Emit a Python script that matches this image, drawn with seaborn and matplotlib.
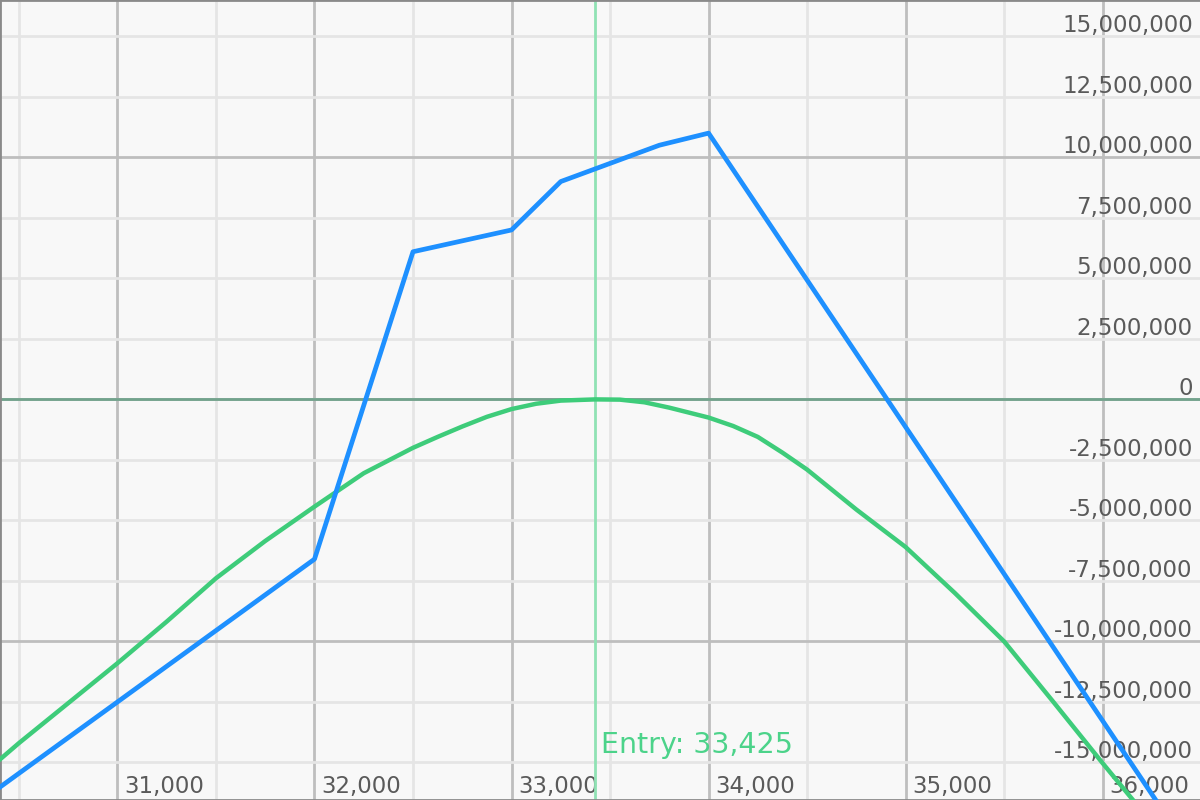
import numpy as np
import pandas as pd
import seaborn as sns
import matplotlib.pyplot as plt
from matplotlib.ticker import MultipleLocator

# P&L at expiry (blue) - kink points
price_expiry = [30000, 32000, 32500, 33000, 33250, 33750, 34000, 36500]
pnl_expiry = [-18.4e6, -6.6e6, 6.1e6, 7.0e6, 9.0e6, 10.5e6, 11.0e6, -19.35e6]

# P&L now (green curve)
price_now = [30400, 30500, 30750, 31000, 31250, 31500, 31750, 32000, 32250, 32500,
             32625, 32750, 32875, 33000, 33125, 33250, 33425, 33550, 33675, 33800,
             34000, 34125, 34250, 34375, 34500, 34750, 35000, 35250, 35500, 35750,
             36000, 36250]
pnl_now = [-14.9e6, -14.2e6, -12.55e6, -10.9e6, -9.18e6, -7.39e6, -5.85e6, -4.43e6, -3.05e6, -2.0e6,
           -1.55e6, -1.12e6, -0.72e6, -0.4e6, -0.18e6, -0.05e6, 0.0, -0.01e6, -0.12e6, -0.34e6,
           -0.75e6, -1.1e6, -1.55e6, -2.2e6, -2.9e6, -4.55e6, -6.1e6, -8.0e6, -10.0e6, -12.5e6,
           -15.03e6, -17.5e6]

entry_price = 33425
x_ticks = [31000, 32000, 33000, 34000, 35000, 36000]
y_ticks = [15e6, 12.5e6, 10e6, 7.5e6, 5e6, 2.5e6, 0, -2.5e6, -5e6, -7.5e6,
           -10e6, -12.5e6, -15e6]

sns.set_style('whitegrid', rc={'axes.facecolor': '#f8f8f8', 'figure.facecolor': '#f8f8f8'})
plt.rcParams['font.family'] = 'DejaVu Sans'

fig = plt.figure(figsize=(12, 8), dpi=100)
ax = fig.add_axes([0, 0, 1, 1])

df_now = pd.DataFrame({'price': price_now, 'pnl': pnl_now})
df_exp = pd.DataFrame({'price': price_expiry, 'pnl': pnl_expiry})

sns.lineplot(data=df_now, x='price', y='pnl', color='#3ecc7a', lw=3.2, ax=ax, zorder=3)
sns.lineplot(data=df_exp, x='price', y='pnl', color='#1e90ff', lw=3.4, ax=ax, zorder=4)

ax.set_xlim(30404, 36494)
ax.set_ylim(-16.55e6, 16.5e6)

ax.xaxis.set_major_locator(MultipleLocator(1000))
ax.xaxis.set_minor_locator(MultipleLocator(500))
ax.yaxis.set_major_locator(MultipleLocator(10e6))
ax.yaxis.set_minor_locator(MultipleLocator(2.5e6))
ax.grid(which='major', color='#bebebe', lw=2)
ax.grid(which='minor', color='#e5e5e5', lw=2)
ax.set_axisbelow(True)

ax.axhline(0, color='#72a38c', lw=2, zorder=2)
ax.axvline(entry_price, color='#90e2b4', lw=2, zorder=2)

ax.tick_params(which='both', length=0, labelbottom=False, labelleft=False)
ax.set_xlabel('')
ax.set_ylabel('')
for side in ['left', 'bottom', 'top']:
    ax.spines[side].set_color('#8a8a8a')
    ax.spines[side].set_linewidth(2)
ax.spines['right'].set_visible(False)

for v in y_ticks:
    ax.annotate(f'{v:,.0f}', xy=(0.994, v), xycoords=('axes fraction', 'data'),
                xytext=(0, 4), textcoords='offset pixels', ha='right', va='baseline',
                fontsize=16.5, color='#5a5a5a', zorder=1)

for v in x_ticks:
    ax.annotate(f'{v:,}', xy=(v, 0), xycoords=('data', 'axes fraction'),
                xytext=(7, 7), textcoords='offset pixels', ha='left', va='baseline',
                fontsize=16.5, color='#5a5a5a', zorder=1)

ax.annotate(f'Entry: {entry_price:,}', xy=(entry_price, 0), xycoords=('data', 'axes fraction'),
            xytext=(6, 47), textcoords='offset pixels', ha='left', va='baseline',
            fontsize=20.5, color='#4cd38a', zorder=1)

fig.savefig('out.png', dpi=100)
